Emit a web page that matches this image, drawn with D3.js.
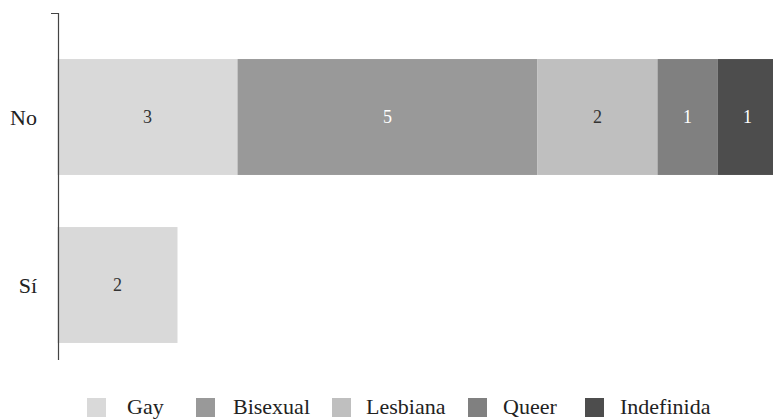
<!DOCTYPE html>
<html>
<head>
<meta charset="utf-8">
<script src="https://cdn.jsdelivr.net/npm/d3@7"></script>
<style>
  svg text { font-family: "Liberation Serif", "Times New Roman", serif !important; }
</style>
</head>
<body style="margin:0">
<script>
// categories and series (counts per group)
var categories = ["No", "Sí"];
var seriesNames = ["Gay", "Bisexual", "Lesbiana", "Queer", "Indefinida"];
var gay = [3, 2];
var bisexual = [5, 0];
var lesbiana = [2, 0];
var queer = [1, 0];
var indefinida = [1, 0];
var colors = ["#d9d9d9", "#999999", "#bfbfbf", "#808080", "#4d4d4d"];
var labelColors = ["#333", "#fff", "#333", "#fff", "#fff"];

var W = 773, H = 419;

// build rows for the stack
var rows = categories.map(function (c, i) {
  return {
    cat: c,
    Gay: gay[i],
    Bisexual: bisexual[i],
    Lesbiana: lesbiana[i],
    Queer: queer[i],
    Indefinida: indefinida[i]
  };
});

var stacked = d3.stack().keys(seriesNames)(rows);

var x = d3.scaleLinear()
  .domain([0, 12])
  .range([57.5, 777.5]);

var y = d3.scaleBand()
  .domain(categories)
  .range([33, 369])
  .paddingInner(0.31)
  .paddingOuter(0.155);

var svg = d3.select("body")
  .append("svg")
  .attr("width", W)
  .attr("height", H)
  .attr("font-family", "Liberation Serif");

var layer = svg.selectAll(".layer")
  .data(stacked)
  .enter()
  .append("g")
  .attr("class", "layer")
  .attr("fill", function (d, i) { return colors[i]; });

layer.selectAll("rect")
  .data(function (d) { return d; })
  .enter()
  .append("rect")
  .attr("x", function (d) { return x(d[0]); })
  .attr("y", function (d) { return y(d.data.cat); })
  .attr("width", function (d) { return x(d[1]) - x(d[0]); })
  .attr("height", y.bandwidth());

// value labels in the middle of each segment
layer.each(function (s, si) {
  d3.select(this).selectAll("text")
    .data(s.filter(function (d) { return d[1] - d[0] > 0; }))
    .enter()
    .append("text")
    .attr("x", function (d) { return (x(d[0]) + x(d[1])) / 2; })
    .attr("y", function (d) { return y(d.data.cat) + y.bandwidth() / 2; })
    .attr("dy", "0.35em")
    .attr("text-anchor", "middle")
    .attr("font-size", 18)
    .attr("fill", labelColors[si])
    .text(function (d) { return d[1] - d[0]; });
});

// y axis line with a small tick at the top
svg.append("path")
  .attr("d", "M51,13.5H58.5V360")
  .attr("fill", "none")
  .attr("stroke", "#444")
  .attr("stroke-width", 1.2);

svg.selectAll(".cat")
  .data(categories)
  .enter()
  .append("text")
  .attr("class", "cat")
  .attr("x", 37)
  .attr("y", function (d) { return y(d) + y.bandwidth() / 2; })
  .attr("dy", "0.35em")
  .attr("text-anchor", "end")
  .attr("font-size", 22)
  .attr("fill", "#222")
  .text(function (d) { return d; });

// legend
var legendX = [87, 196, 332, 468, 585];
var legendTextX = [127, 233, 366, 503, 620];
var lg = svg.selectAll(".leg")
  .data(seriesNames)
  .enter()
  .append("g")
  .attr("class", "leg");

lg.append("rect")
  .attr("x", function (d, i) { return legendX[i]; })
  .attr("y", 398)
  .attr("width", 19)
  .attr("height", 19)
  .attr("fill", function (d, i) { return colors[i]; });

lg.append("text")
  .attr("x", function (d, i) { return legendTextX[i]; })
  .attr("y", 414)
  .attr("font-size", 22)
  .attr("fill", "#222")
  .text(function (d) { return d; });
</script>
</body>
</html>
